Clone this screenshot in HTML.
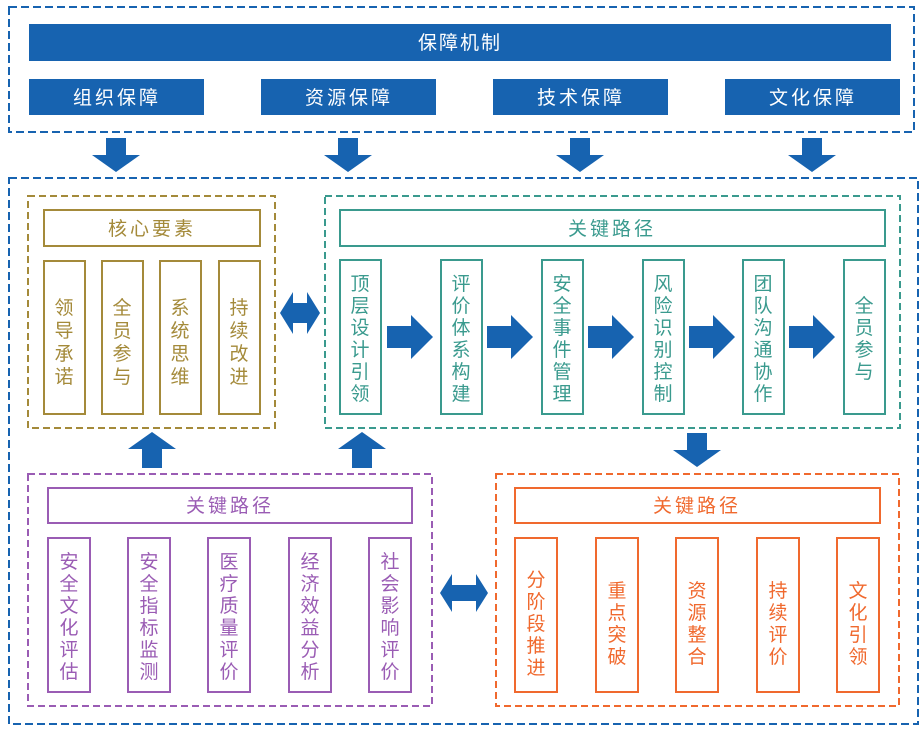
<!DOCTYPE html>
<html><head><meta charset="utf-8"><style>
html,body{margin:0;padding:0;background:#fff;}
svg{display:block;font-family:"Liberation Sans","Noto Sans CJK SC",sans-serif;}
</style></head><body>
<svg width="921" height="729" viewBox="0 0 921 729" xmlns="http://www.w3.org/2000/svg">
<defs>
<g id="down"><polygon points="-10,0 10,0 10,17 24,17 0,34 -24,17 -10,17" fill="#1763b0"/></g>
<g id="up"><polygon points="-10,36 10,36 10,17 24,17 0,0 -24,17 -10,17" fill="#1763b0"/></g>
<g id="right"><polygon points="0,-11 24,-11 24,-22 46,0 24,22 24,11 0,11" fill="#1763b0"/></g>
</defs>
<!-- top -->
<rect x="9" y="7" width="905" height="125" fill="none" stroke="#1763b0" stroke-width="2" stroke-dasharray="8,4"/>
<rect x="29" y="24" width="862" height="37" fill="#1763b0"/>
<text x="460" y="49" font-size="19" fill="#fff" text-anchor="middle" letter-spacing="2">保障机制</text>
<g font-size="19" fill="#fff" text-anchor="middle" letter-spacing="3">
<rect x="29" y="79" width="175" height="36" fill="#1763b0"/><text x="117" y="104">组织保障</text>
<rect x="261" y="79" width="175" height="36" fill="#1763b0"/><text x="349" y="104">资源保障</text>
<rect x="493" y="79" width="175" height="36" fill="#1763b0"/><text x="581" y="104">技术保障</text>
<rect x="725" y="79" width="175" height="36" fill="#1763b0"/><text x="813" y="104">文化保障</text>
</g>
<use href="#down" x="116" y="138"/><use href="#down" x="348" y="138"/><use href="#down" x="580" y="138"/><use href="#down" x="812" y="138"/>
<rect x="9" y="178" width="909" height="546" fill="none" stroke="#1763b0" stroke-width="2" stroke-dasharray="8,4"/>

<!-- gold -->
<g stroke="#a48a3a" fill="none" stroke-width="2">
<rect x="28" y="196" width="247" height="232" stroke-dasharray="7,4"/>
<rect x="44" y="210" width="216" height="36"/>
<rect x="44" y="261" width="41" height="153"/><rect x="102" y="261" width="41" height="153"/>
<rect x="160" y="261" width="41" height="153"/><rect x="219" y="261" width="41" height="153"/>
</g>
<g fill="#a48a3a" font-size="19" text-anchor="middle">
<text x="152" y="235" letter-spacing="3">核心要素</text>
<text x="64" y="314">领</text><text x="64" y="337">导</text><text x="64" y="360">承</text><text x="64" y="383">诺</text>
<text x="122" y="314">全</text><text x="122" y="337">员</text><text x="122" y="360">参</text><text x="122" y="383">与</text>
<text x="180" y="314">系</text><text x="180" y="337">统</text><text x="180" y="360">思</text><text x="180" y="383">维</text>
<text x="239" y="314">持</text><text x="239" y="337">续</text><text x="239" y="360">改</text><text x="239" y="383">进</text>
</g>
<polygon points="280,313 293,292 293,303 307,303 307,292 320,313 307,334 307,323 293,323 293,334" fill="#1763b0"/>

<!-- teal -->
<g stroke="#3a9a8e" fill="none" stroke-width="2">
<rect x="325" y="196" width="575" height="232" stroke-dasharray="7,4"/>
<rect x="340" y="210" width="545" height="36"/>
<rect x="340" y="260" width="41" height="154"/><rect x="441" y="260" width="41" height="154"/>
<rect x="542" y="260" width="41" height="154"/><rect x="643" y="260" width="41" height="154"/>
<rect x="743" y="260" width="41" height="154"/><rect x="844" y="260" width="41" height="154"/>
</g>
<g fill="#3a9a8e" font-size="19" text-anchor="middle">
<text x="612" y="235" letter-spacing="3">关键路径</text>
<text x="360" y="290">顶</text><text x="360" y="312">层</text><text x="360" y="334">设</text><text x="360" y="356">计</text><text x="360" y="378">引</text><text x="360" y="400">领</text>
<text x="461" y="290">评</text><text x="461" y="312">价</text><text x="461" y="334">体</text><text x="461" y="356">系</text><text x="461" y="378">构</text><text x="461" y="400">建</text>
<text x="562" y="290">安</text><text x="562" y="312">全</text><text x="562" y="334">事</text><text x="562" y="356">件</text><text x="562" y="378">管</text><text x="562" y="400">理</text>
<text x="663" y="290">风</text><text x="663" y="312">险</text><text x="663" y="334">识</text><text x="663" y="356">别</text><text x="663" y="378">控</text><text x="663" y="400">制</text>
<text x="763" y="290">团</text><text x="763" y="312">队</text><text x="763" y="334">沟</text><text x="763" y="356">通</text><text x="763" y="378">协</text><text x="763" y="400">作</text>
<text x="864" y="312">全</text><text x="864" y="334">员</text><text x="864" y="356">参</text><text x="864" y="378">与</text>
</g>
<use href="#right" x="387" y="337"/><use href="#right" x="487" y="337"/><use href="#right" x="588" y="337"/><use href="#right" x="689" y="337"/><use href="#right" x="789" y="337"/>

<use href="#up" x="152" y="432"/><use href="#up" x="362" y="432"/><use href="#down" x="697" y="433"/>

<!-- purple -->
<g stroke="#9a5cb4" fill="none" stroke-width="2">
<rect x="28" y="474" width="404" height="232" stroke-dasharray="7,4"/>
<rect x="48" y="488" width="364" height="35"/>
<rect x="48" y="538" width="42" height="154"/><rect x="128" y="538" width="42" height="154"/>
<rect x="208" y="538" width="42" height="154"/><rect x="289" y="538" width="42" height="154"/>
<rect x="369" y="538" width="42" height="154"/>
</g>
<g fill="#9a5cb4" font-size="19" text-anchor="middle">
<text x="230" y="512" letter-spacing="3">关键路径</text>
<text x="69" y="568">安</text><text x="69" y="590">全</text><text x="69" y="612">文</text><text x="69" y="634">化</text><text x="69" y="656">评</text><text x="69" y="678">估</text>
<text x="149" y="568">安</text><text x="149" y="590">全</text><text x="149" y="612">指</text><text x="149" y="634">标</text><text x="149" y="656">监</text><text x="149" y="678">测</text>
<text x="229" y="568">医</text><text x="229" y="590">疗</text><text x="229" y="612">质</text><text x="229" y="634">量</text><text x="229" y="656">评</text><text x="229" y="678">价</text>
<text x="310" y="568">经</text><text x="310" y="590">济</text><text x="310" y="612">效</text><text x="310" y="634">益</text><text x="310" y="656">分</text><text x="310" y="678">析</text>
<text x="390" y="568">社</text><text x="390" y="590">会</text><text x="390" y="612">影</text><text x="390" y="634">响</text><text x="390" y="656">评</text><text x="390" y="678">价</text>
</g>
<polygon points="440,593 452,574 452,585 476,585 476,574 488,593 476,612 476,601 452,601 452,612" fill="#1763b0"/>

<!-- orange -->
<g stroke="#f0692e" fill="none" stroke-width="2">
<rect x="496" y="474" width="403" height="232" stroke-dasharray="7,4"/>
<rect x="515" y="488" width="365" height="35"/>
<rect x="515" y="538" width="42" height="154"/><rect x="596" y="538" width="42" height="154"/>
<rect x="676" y="538" width="42" height="154"/><rect x="757" y="538" width="42" height="154"/>
<rect x="837" y="538" width="42" height="154"/>
</g>
<g fill="#f0692e" font-size="19" text-anchor="middle">
<text x="697" y="512" letter-spacing="3">关键路径</text>
<text x="536" y="586">分</text><text x="536" y="608">阶</text><text x="536" y="630">段</text><text x="536" y="652">推</text><text x="536" y="674">进</text>
<text x="617" y="597">重</text><text x="617" y="619">点</text><text x="617" y="641">突</text><text x="617" y="663">破</text>
<text x="697" y="597">资</text><text x="697" y="619">源</text><text x="697" y="641">整</text><text x="697" y="663">合</text>
<text x="778" y="597">持</text><text x="778" y="619">续</text><text x="778" y="641">评</text><text x="778" y="663">价</text>
<text x="858" y="597">文</text><text x="858" y="619">化</text><text x="858" y="641">引</text><text x="858" y="663">领</text>
</g>
</svg>
</body></html>
